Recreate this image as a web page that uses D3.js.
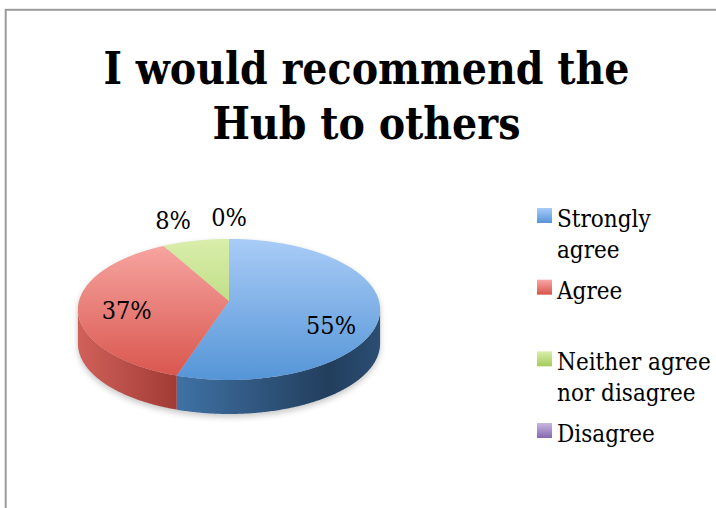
<!DOCTYPE html>
<html>
<head>
<meta charset="utf-8">
<script src="https://cdn.jsdelivr.net/npm/d3@7/dist/d3.min.js"></script>
<style>
  html, body { margin: 0; padding: 0; background: #fff; }
  svg { display: block; }
  .serif { font-family: "DejaVu Serif Condensed", "DejaVu Serif", serif; font-stretch: condensed; }
</style>
</head>
<body>
<svg id="chart" width="716" height="508"></svg>
<script>
// ---- data ----
const categories = ["Strongly agree", "Agree", "Neither agree nor disagree", "Disagree"];
const values = [55, 37, 8, 0];
const valueLabels = ["55%", "37%", "8%", "0%"];
const legendLines = [["Strongly", "agree"], ["Agree"], ["Neither agree", "nor disagree"], ["Disagree"]];
const titleLines = ["I would recommend the", "Hub to others"];

// ---- colours: [light, dark] for top faces, sides and legend keys ----
const topColors = [["#a9ccf7", "#5595d7"], ["#f8a8a4", "#d8544c"], ["#d9eeab", "#a4cb5b"], ["#c6b7e2", "#8669b0"]];
const sideColors = [["#3f72a5", "#223e5d"], ["#d0605a", "#a23b35"], ["#98b957", "#6f8b3c"], ["#8064a2", "#5c4777"]];

const svg = d3.select("#chart");
const defs = svg.append("defs");

// frame
svg.append("rect")
  .attr("x", 5.7).attr("y", 9.8).attr("width", 900).attr("height", 700)
  .attr("fill", "none").attr("stroke", "#9c9c9c").attr("stroke-width", 2);

// title
const title = svg.append("text").attr("class", "serif")
  .attr("text-anchor", "middle").attr("font-weight", "bold").attr("font-size", 44).attr("fill", "#000");
titleLines.forEach((t, i) => {
  title.append("tspan").attr("x", 366.5).attr("y", 83.5 + i * 55).text(t);
});

// ---- 3D pie geometry ----
const cx = 229, cy = 301, rx = 150, ry = 69.5, persp = 0.12, depth = 34;
function proj(a, r = 1, dz = 0) {
  const x = Math.sin(a) * r, y = -Math.cos(a) * r;
  const p = 1 / (1 - persp * y);
  return [cx + rx * x * p, cy + ry * y * p + dz];
}
function arcPoints(a0, a1, dz = 0) {
  const n = Math.max(2, Math.ceil(Math.abs(a1 - a0) / 0.01));
  return d3.range(n + 1).map(i => proj(a0 + (a1 - a0) * i / n, 1, dz));
}
const line = d3.line();

const pie = d3.pie().sort(null).value(d => d).startAngle(0).endAngle(2 * Math.PI);
const arcs = pie(values);

// silhouette extremes (visible side spans between them)
const aRight = Math.acos(-persp), aLeft = 2 * Math.PI - aRight;

// soft drop shadow
const shadowF = defs.append("filter").attr("id", "shadow").attr("x", "-20%").attr("y", "-20%").attr("width", "140%").attr("height", "140%");
shadowF.append("feGaussianBlur").attr("stdDeviation", 3);
const silhouette = arcPoints(aRight, aLeft, depth).concat(arcPoints(aLeft, aRight + 2 * Math.PI, 0));
svg.append("path")
  .attr("d", line(silhouette) + "Z")
  .attr("transform", "translate(0,3)")
  .attr("fill", "#000").attr("opacity", 0.22).attr("filter", "url(#shadow)");

// sides: lighter on the left, darkening to the right, with a faint rim light at the right edge
arcs.forEach((d, i) => {
  const a0 = Math.max(d.startAngle, aRight), a1 = Math.min(d.endAngle, aLeft);
  if (a1 <= a0) return;
  const top = arcPoints(a0, a1, 0), bottom = arcPoints(a1, a0, depth);
  const gid = "side" + i;
  const g = defs.append("linearGradient").attr("id", gid).attr("gradientUnits", "userSpaceOnUse")
    .attr("x1", proj(a1)[0]).attr("y1", 0).attr("x2", proj(a0)[0]).attr("y2", 0);
  const rim = a0 === aRight;
  g.append("stop").attr("offset", 0).attr("stop-color", sideColors[i][0]);
  g.append("stop").attr("offset", rim ? 0.75 : 1).attr("stop-color", sideColors[i][1]);
  if (rim) g.append("stop").attr("offset", 1).attr("stop-color", d3.interpolateRgb(sideColors[i][1], sideColors[i][0])(0.3));
  svg.append("path").attr("d", line(top.concat(bottom)) + "Z").attr("fill", `url(#${gid})`);
});

// top faces
arcs.forEach((d, i) => {
  if (d.endAngle - d.startAngle <= 0) return;
  const gid = "top" + i;
  const g = defs.append("linearGradient").attr("id", gid).attr("gradientUnits", "userSpaceOnUse")
    .attr("x1", 0).attr("y1", cy - 62).attr("x2", 0).attr("y2", cy + 79);
  g.append("stop").attr("offset", 0).attr("stop-color", topColors[i][0]);
  g.append("stop").attr("offset", 1).attr("stop-color", topColors[i][1]);
  const pts = [[cx, cy]].concat(arcPoints(d.startAngle, d.endAngle, 0));
  svg.append("path").attr("d", line(pts) + "Z").attr("fill", `url(#${gid})`);
});

// value labels: large slices inside, small ones above the rim
const labelFont = 25;
const labels = arcs.map((d, i) => {
  const mid = (d.startAngle + d.endAngle) / 2;
  const share = (d.endAngle - d.startAngle) / (2 * Math.PI);
  const inside = share >= 0.15;
  const [x, y] = inside ? proj(mid, 0.68) : proj(mid, 1.4);
  // slices that wrap the front edge sit lower, in the middle of their visible body
  const front = d.startAngle <= Math.PI && d.endAngle >= Math.PI;
  const dy = inside ? (front ? depth / 2 : depth * 0.15) : 0;
  return { text: valueLabels[i], x, y: y + dy, inside };
});
// keep the small outside labels apart
const outside = labels.filter(l => !l.inside).sort((a, b) => b.x - a.x);
for (let j = 1; j < outside.length; j++) {
  const minGap = 56;
  if (outside[j - 1].x - outside[j].x < minGap) outside[j].x = outside[j - 1].x - minGap;
}
svg.selectAll("text.vlabel").data(labels).join("text")
  .attr("class", "vlabel serif")
  .attr("x", d => d.x).attr("y", d => d.y)
  .attr("dy", "0.35em")
  .attr("text-anchor", "middle").attr("font-size", labelFont).attr("fill", "#000")
  .text(d => d.text);

// legend
const legendY = d3.scalePoint().domain(categories).range([208, 423]);
const key = 15;
categories.forEach((c, i) => {
  const y = legendY(c);
  const gid = "leg" + i;
  const g = defs.append("linearGradient").attr("id", gid).attr("x1", 0).attr("y1", 0).attr("x2", 0).attr("y2", 1);
  g.append("stop").attr("offset", 0).attr("stop-color", topColors[i][0]);
  g.append("stop").attr("offset", 1).attr("stop-color", topColors[i][1]);
  svg.append("rect").attr("x", 537).attr("y", y).attr("width", key).attr("height", key).attr("fill", `url(#${gid})`);
  const t = svg.append("text").attr("class", "serif").attr("font-size", 24).attr("fill", "#000");
  legendLines[i].forEach((ln, k) => {
    t.append("tspan").attr("x", 557).attr("y", y + 19 + k * 31).text(ln);
  });
});
</script>
</body>
</html>
